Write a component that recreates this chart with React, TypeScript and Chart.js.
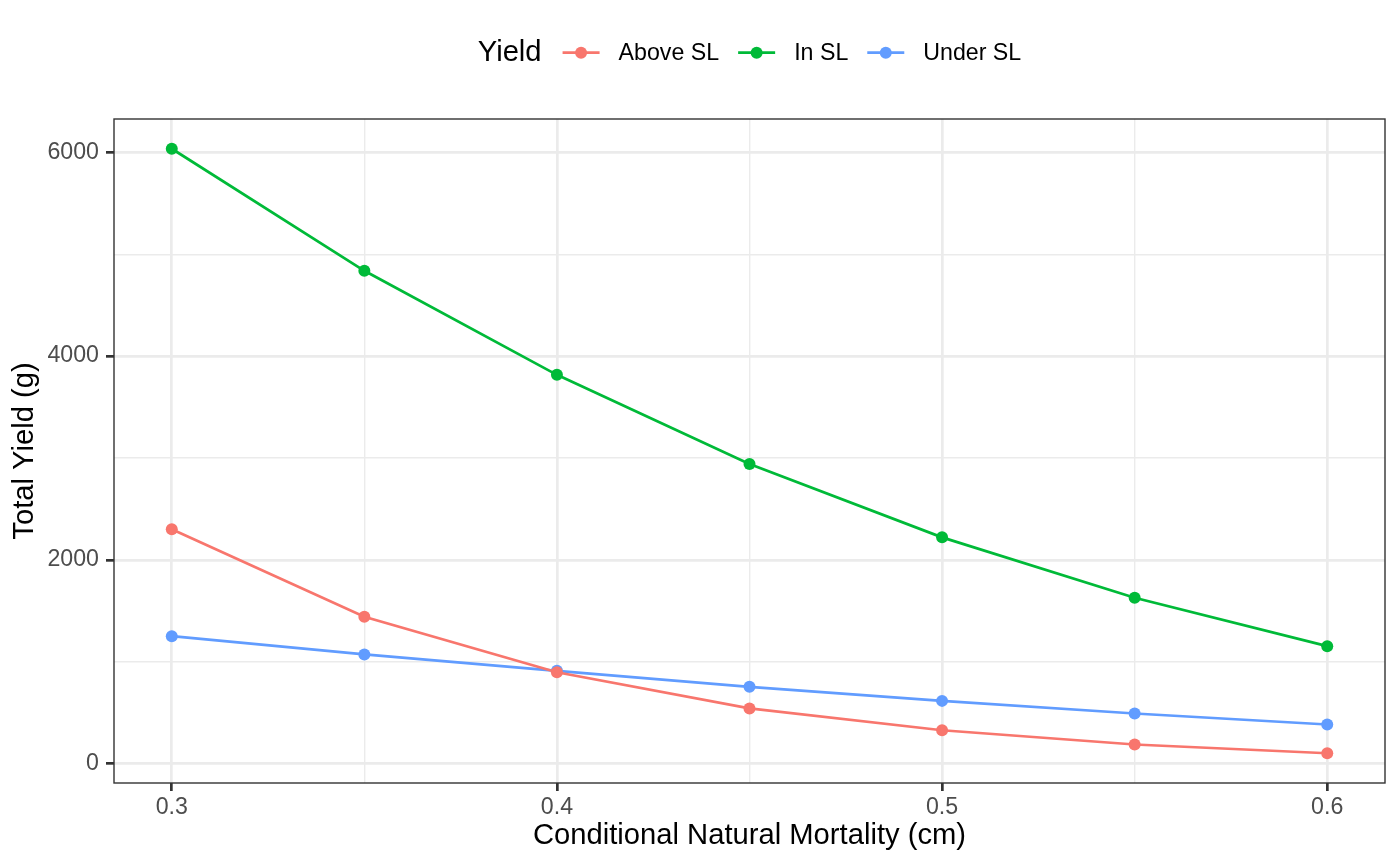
import React, { useEffect, useRef } from "react";
import { Chart, registerables } from "chart.js";

Chart.register(...registerables);

const mortality = [0.3, 0.35, 0.4, 0.45, 0.5, 0.55, 0.6];
const aboveSL = [2300, 1441, 897, 542, 328, 188, 102];
const inSL = [6035, 4837, 3816, 2942, 2221, 1628, 1153];
const underSL = [1251, 1072, 911, 754, 616, 492, 384];

const seriesNames = ["Above SL", "In SL", "Under SL"];
const seriesColors = ["#F8766D", "#00BA38", "#619CFF"];

const xMajorTicks = [0.3, 0.4, 0.5, 0.6];
const xMinorTicks = [0.35, 0.45, 0.55];
const yMajorTicks = [0, 2000, 4000, 6000];
const yMinorTicks = [1000, 3000, 5000];

const legendTitle = "Yield";
const xTitle = "Conditional Natural Mortality (cm)";
const yTitle = "Total Yield (g)";

const FONT = "'Liberation Sans', Arial, Helvetica, sans-serif";
const TICK_SIZE = 23.2;
const TITLE_SIZE = 29.2;

const isMajor = (v: number, majors: number[]) => majors.some((m) => Math.abs(m - v) < 1e-9);

const panelPlugin = {
  id: "panelBoxAndLegend",
  afterDraw(chart: any) {
    const { ctx, chartArea } = chart;
    ctx.save();
    // panel border
    ctx.strokeStyle = "#333333";
    ctx.lineWidth = 1.4;
    ctx.strokeRect(chartArea.left, chartArea.top, chartArea.right - chartArea.left, chartArea.bottom - chartArea.top);

    // legend
    const cy = 52.7;
    const keyW = 37;
    const gapTitle = 21;
    const gapKeyLabel = 19;
    const gapItem = 19;
    ctx.textBaseline = "middle";
    ctx.font = `${TITLE_SIZE}px ${FONT}`;
    const titleW = ctx.measureText(legendTitle).width;
    ctx.font = `${TICK_SIZE}px ${FONT}`;
    const labelWs = seriesNames.map((n) => ctx.measureText(n).width);
    let total = titleW + gapTitle;
    labelWs.forEach((w, i) => {
      total += keyW + gapKeyLabel + w + (i < labelWs.length - 1 ? gapItem : 0);
    });
    let x = (chartArea.left + chartArea.right) / 2 - total / 2;
    ctx.fillStyle = "#000000";
    ctx.textAlign = "left";
    ctx.font = `${TITLE_SIZE}px ${FONT}`;
    ctx.fillText(legendTitle, x, cy);
    x += titleW + gapTitle;
    ctx.font = `${TICK_SIZE}px ${FONT}`;
    seriesNames.forEach((name, i) => {
      ctx.strokeStyle = seriesColors[i];
      ctx.lineWidth = 2.7;
      ctx.beginPath();
      ctx.moveTo(x, cy);
      ctx.lineTo(x + keyW, cy);
      ctx.stroke();
      ctx.fillStyle = seriesColors[i];
      ctx.beginPath();
      ctx.arc(x + keyW / 2, cy, 6, 0, Math.PI * 2);
      ctx.fill();
      x += keyW + gapKeyLabel;
      ctx.fillStyle = "#000000";
      ctx.fillText(name, x, cy + 1);
      x += labelWs[i] + gapItem;
    });
    ctx.restore();
  },
};

export default function App() {
  const canvasRef = useRef<HTMLCanvasElement | null>(null);

  useEffect(() => {
    const canvas = canvasRef.current;
    if (!canvas) return;
    const seriesData = [aboveSL, inSL, underSL];
    const datasets = seriesNames.map((name, i) => ({
      label: name,
      data: mortality.map((m, j) => ({ x: m, y: seriesData[i][j] })),
      borderColor: seriesColors[i],
      backgroundColor: seriesColors[i],
      pointBackgroundColor: seriesColors[i],
      pointBorderWidth: 0,
      pointRadius: 6,
      borderWidth: 2.7,
      tension: 0,
    }));

    const chart = new Chart(canvas, {
      type: "line",
      data: { datasets },
      plugins: [panelPlugin],
      options: {
        animation: false,
        responsive: false,
        devicePixelRatio: 1,
        layout: { padding: { top: 119, right: 15, bottom: 0, left: 0 } },
        plugins: {
          legend: { display: false },
          tooltip: { enabled: false },
          title: { display: false },
        },
        scales: {
          x: {
            type: "linear",
            min: 0.285,
            max: 0.615,
            afterBuildTicks: (scale: any) => {
              scale.ticks = [...xMajorTicks, ...xMinorTicks].sort((a, b) => a - b).map((v) => ({ value: v }));
            },
            afterFit: (scale: any) => {
              scale.height = 83;
            },
            border: { display: false },
            grid: {
              color: "#EBEBEB",
              lineWidth: (c: any) => (isMajor(c.tick.value, xMajorTicks) ? 2.7 : 1.4),
              tickColor: (c: any) => (isMajor(c.tick.value, xMajorTicks) ? "#333333" : "rgba(0,0,0,0)"),
              tickWidth: 2.7,
              tickLength: 8,
              drawTicks: true,
            },
            ticks: {
              autoSkip: false,
              maxRotation: 0,
              padding: 3,
              color: "#4D4D4D",
              font: { family: FONT, size: TICK_SIZE },
              callback: (v: any) => (isMajor(Number(v), xMajorTicks) ? String(Number(v)) : ""),
            },
            title: {
              display: true,
              text: xTitle,
              color: "#000000",
              font: { family: FONT, size: TITLE_SIZE },
              padding: { top: 0, bottom: 13 },
            },
          },
          y: {
            type: "linear",
            min: -190,
            max: 6327,
            afterBuildTicks: (scale: any) => {
              scale.ticks = [...yMajorTicks, ...yMinorTicks].sort((a, b) => a - b).map((v) => ({ value: v }));
            },
            afterFit: (scale: any) => {
              scale.width = 114;
            },
            border: { display: false },
            grid: {
              color: "#EBEBEB",
              lineWidth: (c: any) => (isMajor(c.tick.value, yMajorTicks) ? 2.7 : 1.4),
              tickColor: (c: any) => (isMajor(c.tick.value, yMajorTicks) ? "#333333" : "rgba(0,0,0,0)"),
              tickWidth: 2.7,
              tickLength: 8,
              drawTicks: true,
            },
            ticks: {
              autoSkip: false,
              padding: 7,
              color: "#4D4D4D",
              font: { family: FONT, size: TICK_SIZE },
              callback: (v: any) => (isMajor(Number(v), yMajorTicks) ? String(Number(v)) : ""),
            },
            title: {
              display: true,
              text: yTitle,
              color: "#000000",
              font: { family: FONT, size: TITLE_SIZE },
              padding: { top: 7, bottom: 0 },
            },
          },
        },
      },
    } as any);

    return () => chart.destroy();
  }, []);

  return (
    <div style={{ position: "fixed", left: 0, top: 0, width: 1400, height: 866, background: "#ffffff" }}>
      <canvas ref={canvasRef} width={1400} height={866} style={{ display: "block" }} />
    </div>
  );
}
